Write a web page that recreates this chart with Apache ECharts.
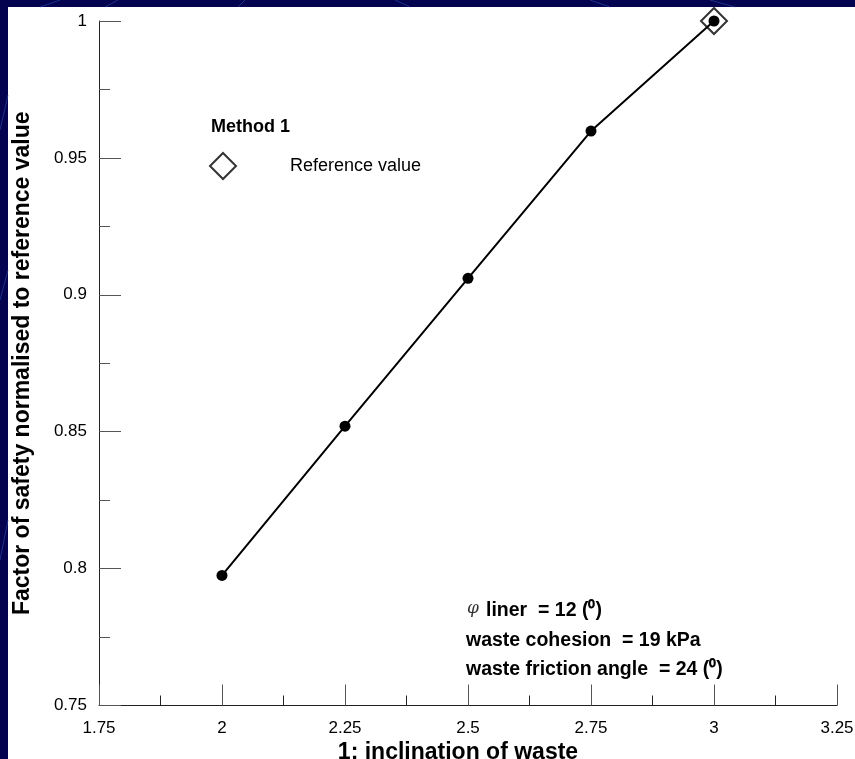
<!DOCTYPE html>
<html>
<head>
<meta charset="utf-8">
<script src="https://cdn.jsdelivr.net/npm/echarts@6/dist/echarts.min.js"></script>
<style>
html,body{margin:0;padding:0;background:#03034f;}
#chart{width:855px;height:759px;}
</style>
</head>
<body>
<div id="chart"></div>
<script>
// Data
const inclination = [2, 2.25, 2.5, 2.75, 3];
const fosNormalised = [0.7975, 0.852, 0.906, 0.9598, 1.0];
const refX = [3];
const refY = [1.0];
const xTicks = [1.75, 2, 2.25, 2.5, 2.75, 3, 3.25];
const yTicks = [0.75, 0.8, 0.85, 0.9, 0.95, 1];
const legendTitle = 'Method 1';
const refName = 'Reference value';
const notes = ['liner  = 12 (⁰)', 'waste cohesion  = 19 kPa', 'waste friction angle  = 24 (⁰)'];

const FONT = '"Liberation Sans", Arial, sans-serif';
const chart = echarts.init(document.getElementById('chart'));

const bgLines = [];
[[60,0,40,7],[118,0,105,7],[245,0,238,7],[395,0,410,7],[590,0,610,7],[710,0,735,7],[0,130,8,95],[0,300,8,270],[0,560,8,520]].forEach(p=>{
  bgLines.push({type:'line',shape:{x1:p[0],y1:p[1],x2:p[2],y2:p[3]},style:{stroke:'#2f4fb0',lineWidth:1,opacity:0.6},silent:true,z:-9});
});

chart.setOption({
  backgroundColor: '#03034f',
  animation: false,
  grid: {left: 99, right: 18, top: 21, bottom: 53.5, containLabel: false, outerBoundsMode: 'none'},
  graphic: [
    {type:'rect', shape:{x:8,y:7,width:847,height:752}, style:{fill:'#ffffff'}, z:-10, silent:true},
    ...bgLines,
    {type:'text', left:211, top:118, style:{text:legendTitle, font:'bold 18px '+FONT, fill:'#000'}},
    {type:'text', left:467, top:600, style:{text:'φ', font:'italic 17px "DejaVu Serif", serif', fill:'#333'}},
    {type:'text', left:486, top:601, style:{text:notes[0], font:'bold 19.5px '+FONT, fill:'#000'}},
    {type:'text', left:466, top:631, style:{text:notes[1], font:'bold 19.5px '+FONT, fill:'#000'}},
    {type:'text', left:466, top:660, style:{text:notes[2], font:'bold 19.5px '+FONT, fill:'#000'}}
  ],
  legend: {
    left: 204, top: 147,
    icon: 'diamond',
    itemWidth: 26, itemHeight: 26,
    data: [{name: refName, icon: 'diamond'}],
    itemStyle: {color:'#fff', borderColor:'#000', borderWidth:2},
    textStyle: {fontFamily: FONT, fontSize: 18, color:'#000', padding:[4,0,0,49]}
  },
  xAxis: {
    type: 'value', min: 1.75, max: 3.25, interval: 0.25,
    name: '1: inclination of waste', nameLocation: 'middle', nameGap: 29,
    nameTextStyle: {fontFamily: FONT, fontWeight:'bold', fontSize: 23, color:'#000', padding:[0,20,0,0]},
    axisLine: {show:true, lineStyle:{color:'#222', width:1}},
    axisTick: {show:true, inside:true, length:21, lineStyle:{color:'#555'}},
    minorTick: {show:true, splitNumber:2, length:10, lineStyle:{color:'#222'}},
    splitLine: {show:false},
    axisLabel: {fontFamily: FONT, fontSize: 17, color:'#000', margin: 14,
      formatter: v => xTicks.includes(+v.toFixed(2)) ? String(+v.toFixed(2)) : ''}
  },
  yAxis: {
    type: 'value', min: 0.75, max: 1, interval: 0.05,
    name: 'Factor of safety normalised to reference value', nameLocation: 'middle', nameGap: 65, nameRotate: 90,
    nameTextStyle: {fontFamily: FONT, fontWeight:'bold', fontSize: 23, color:'#000'},
    axisLine: {show:true, lineStyle:{color:'#222', width:1}},
    axisTick: {show:true, inside:true, length:22, lineStyle:{color:'#555'}},
    minorTick: {show:true, splitNumber:2, length:11, lineStyle:{color:'#555'}},
    splitLine: {show:false},
    axisLabel: {fontFamily: FONT, fontSize: 17, color:'#000', margin: 12,
      formatter: v => { const r = +v.toFixed(2); return yTicks.includes(r) ? String(r) : ''; }}
  },
  series: [
    {
      name: 'FoS', type: 'line',
      data: inclination.map((x,i)=>[x, fosNormalised[i]]),
      symbol: 'circle', symbolSize: 11,
      itemStyle: {color:'#000'},
      lineStyle: {color:'#000', width:2},
      z: 3
    },
    {
      name: refName, type: 'scatter',
      data: refX.map((x,i)=>[x, refY[i]]),
      symbol: 'diamond', symbolSize: 26,
      itemStyle: {color:'rgba(0,0,0,0)', borderColor:'#000', borderWidth:2},
      z: 2
    }
  ]
});
</script>
</body>
</html>
